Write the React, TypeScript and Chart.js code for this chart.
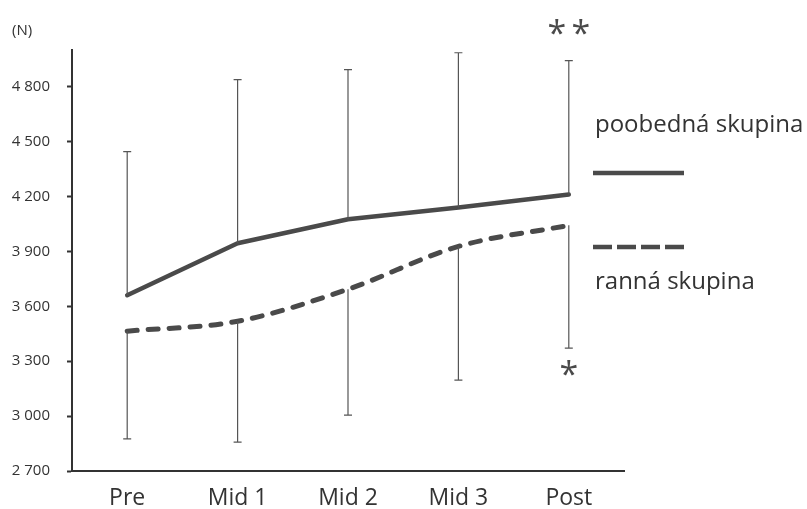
import React, { useEffect, useRef } from "react";
import { Chart, registerables } from "chart.js";

Chart.register(...registerables);

const categories = ["Pre", "Mid 1", "Mid 2", "Mid 3", "Post"];
const afternoonMeans = [3660, 3944, 4075, 4140, 4211];
const afternoonUpper = [4445, 4838, 4893, 4985, 4942];
const morningMeans = [3464, 3518, 3693, 3927, 4042];
const morningLower = [2875, 2858, 3005, 3196, 3371];
const yTicks = [2700, 3000, 3300, 3600, 3900, 4200, 4500, 4800];
const legendLabels = ["poobedná skupina", "ranná skupina"];
const unitLabel = "(N)";
const markStar = "*";

const FONT = "'Open Sans', 'DejaVu Sans', sans-serif";
const INK = "#4a4a4a";

const overlay = {
  id: "overlay",
  afterDatasetsDraw(chart: any) {
    const { ctx } = chart;
    const x = chart.scales.x;
    const y = chart.scales.y;
    ctx.save();
    ctx.strokeStyle = "#555";
    ctx.lineWidth = 1.2;
    const cap = 4;
    const drawBar = (i: number, from: number, to: number) => {
      const px = x.getPixelForValue(i);
      const y1 = y.getPixelForValue(from);
      const y2 = y.getPixelForValue(to);
      ctx.beginPath();
      ctx.moveTo(px, y1);
      ctx.lineTo(px, y2);
      ctx.moveTo(px - cap, y2);
      ctx.lineTo(px + cap, y2);
      ctx.stroke();
    };
    categories.forEach((_, i) => {
      drawBar(i, afternoonMeans[i], afternoonUpper[i]);
      drawBar(i, morningMeans[i], morningLower[i]);
    });

    // significance marks
    const last = categories.length - 1;
    const pxLast = x.getPixelForValue(last);
    ctx.fillStyle = INK;
    ctx.textAlign = "center";
    ctx.textBaseline = "middle";
    ctx.font = `34px ${FONT}`;
    const topY = y.getPixelForValue(afternoonUpper[last]) - 25;
    ctx.fillText(markStar, pxLast - 12, topY);
    ctx.fillText(markStar, pxLast + 12, topY);
    ctx.fillText(markStar, pxLast, y.getPixelForValue(morningLower[last]) + 28);

    // unit label
    ctx.font = `15px ${FONT}`;
    ctx.textAlign = "left";
    ctx.textBaseline = "alphabetic";
    ctx.fillStyle = "#333";
    ctx.fillText(unitLabel, 12, 35);

    // legend
    const lx = chart.chartArea.right - 31;
    ctx.font = `24px ${FONT}`;
    ctx.fillStyle = "#333";
    ctx.fillText(legendLabels[0], lx + 2, 132);
    ctx.strokeStyle = INK;
    ctx.lineWidth = 4.5;
    ctx.beginPath();
    ctx.moveTo(lx, 173);
    ctx.lineTo(lx + 91, 173);
    ctx.stroke();
    ctx.setLineDash([19, 5]);
    ctx.lineWidth = 4.5;
    ctx.beginPath();
    ctx.moveTo(lx, 247);
    ctx.lineTo(lx + 91, 247);
    ctx.stroke();
    ctx.setLineDash([]);
    ctx.fillText(legendLabels[1], lx + 2, 289);
    ctx.restore();
  },
};

export default function App() {
  const ref = useRef<HTMLCanvasElement>(null);
  useEffect(() => {
    document.body.style.margin = "0";
    const chart = new Chart(ref.current!, {
      type: "line",
      data: {
        labels: categories,
        datasets: [
          {
            label: legendLabels[0],
            data: afternoonMeans,
            borderColor: INK,
            borderWidth: 4.5,
            pointRadius: 0,
            tension: 0,
            borderCapStyle: "round",
            borderJoinStyle: "round",
          },
          {
            label: legendLabels[1],
            data: morningMeans,
            borderColor: INK,
            borderWidth: 5,
            borderDash: [10, 11],
            pointRadius: 0,
            cubicInterpolationMode: "monotone",
            borderCapStyle: "round",
          },
        ],
      },
      options: {
        animation: false,
        responsive: false,
        maintainAspectRatio: false,
        layout: { padding: { left: 12, right: 183, top: 50, bottom: 0 } },
        plugins: { legend: { display: false }, tooltip: { enabled: false } },
        scales: {
          x: {
            offset: true,
            grid: { display: false, drawTicks: false },
            border: { color: "#333", width: 2 },
            ticks: {
              color: "#333",
              font: { family: FONT, size: 23 },
              padding: 14,
            },
            afterFit: (s: any) => {
              s.height = 38;
            },
          },
          y: {
            min: 2700,
            max: 5000,
            grid: { drawOnChartArea: false, drawTicks: true, tickLength: 5, color: "#333", tickWidth: 2 },
            border: { color: "#333", width: 2 },
            afterBuildTicks: (s: any) => {
              s.ticks = yTicks.map((v) => ({ value: v }));
            },
            ticks: {
              color: "#333",
              font: { family: FONT, size: 15 },
              padding: 17,
              callback: (v: any) => {
                const n = Number(v);
                const th = Math.floor(n / 1000);
                const rest = String(n % 1000).padStart(3, "0");
                return `${th} ${rest}`;
              },
            },
            afterFit: (s: any) => {
              s.width = 60;
            },
          },
        },
      },
      plugins: [overlay],
    });
    return () => chart.destroy();
  }, []);
  return (
    <div style={{ width: 807, height: 509, background: "#fff" }}>
      <canvas ref={ref} width={807} height={509} />
    </div>
  );
}
